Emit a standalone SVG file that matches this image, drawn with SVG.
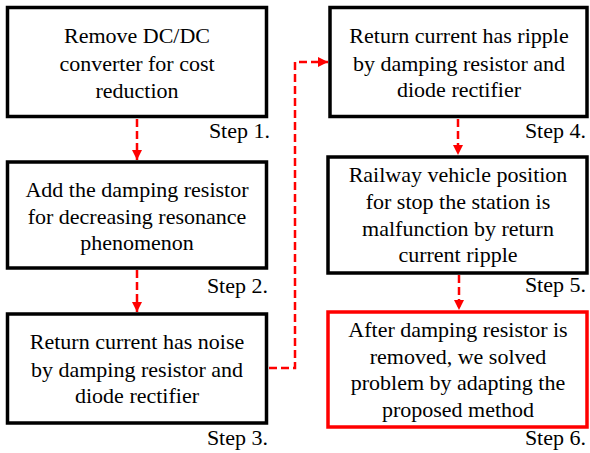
<svg xmlns="http://www.w3.org/2000/svg" width="590" height="453" viewBox="0 0 590 453" font-family="Liberation Serif" font-size="22">
<style>
.box{fill:#fff;stroke:#000;stroke-width:3.5}
.red{fill:#fff;stroke:#f00;stroke-width:3.5}
.conn{fill:none;stroke:#f00;stroke-width:2.5;stroke-dasharray:8,4}
</style>
<defs>
<marker id="ah" viewBox="0 0 10 10" refX="10" refY="5" markerWidth="10" markerHeight="10" markerUnits="userSpaceOnUse" orient="auto">
<path d="M0,0 L10,5 L0,10 Z" fill="#f00"/>
</marker>
</defs>
<g id="connectors">
<path class="conn" d="M137,119 V160" marker-end="url(#ah)"/>
<path class="conn" d="M137,270 V312" marker-end="url(#ah)"/>
<path class="conn" d="M269,368 H295 V62 H328" marker-end="url(#ah)"/>
<path class="conn" d="M458,119 V155" marker-end="url(#ah)"/>
<path class="conn" d="M459,275 V310" marker-end="url(#ah)"/>
</g>
<g id="step1">
<rect class="box" x="7.5" y="7.5" width="259" height="109"/>
<text text-anchor="middle" x="137" y="43">Remove DC/DC</text>
<text text-anchor="middle" x="137" y="71">converter for cost</text>
<text text-anchor="middle" x="137" y="98">reduction</text>
<text text-anchor="end" x="270" y="138">Step 1.</text>
</g>
<g id="step2">
<rect class="box" x="7.5" y="162" width="259" height="106"/>
<text text-anchor="middle" x="137" y="197">Add the damping resistor</text>
<text text-anchor="middle" x="137" y="224">for decreasing resonance</text>
<text text-anchor="middle" x="137" y="250">phenomenon</text>
<text text-anchor="end" x="268" y="293">Step 2.</text>
</g>
<g id="step3">
<rect class="box" x="7.5" y="314" width="259" height="109"/>
<text text-anchor="middle" x="137" y="349">Return current has noise</text>
<text text-anchor="middle" x="137" y="377">by damping resistor and</text>
<text text-anchor="middle" x="137" y="403">diode rectifier</text>
<text text-anchor="end" x="268" y="445">Step 3.</text>
</g>
<g id="step4">
<rect class="box" x="330" y="7.5" width="257" height="109"/>
<text text-anchor="middle" x="459" y="43">Return current has ripple</text>
<text text-anchor="middle" x="459" y="71">by damping resistor and</text>
<text text-anchor="middle" x="459" y="97">diode rectifier</text>
<text text-anchor="end" x="586" y="138">Step 4.</text>
</g>
<g id="step5">
<rect class="box" x="328" y="157" width="259" height="116"/>
<text text-anchor="middle" x="458" y="182">Railway vehicle position</text>
<text text-anchor="middle" x="458" y="209">for stop the station is</text>
<text text-anchor="middle" x="458" y="236">malfunction by return</text>
<text text-anchor="middle" x="458" y="262">current ripple</text>
<text text-anchor="end" x="586" y="292">Step 5.</text>
</g>
<g id="step6">
<rect class="red" x="328" y="312" width="259" height="115"/>
<text text-anchor="middle" x="458" y="337">After damping resistor is</text>
<text text-anchor="middle" x="458" y="364">removed, we solved</text>
<text text-anchor="middle" x="458" y="390">problem by adapting the</text>
<text text-anchor="middle" x="458" y="417">proposed method</text>
<text text-anchor="end" x="586" y="445">Step 6.</text>
</g>
</svg>
